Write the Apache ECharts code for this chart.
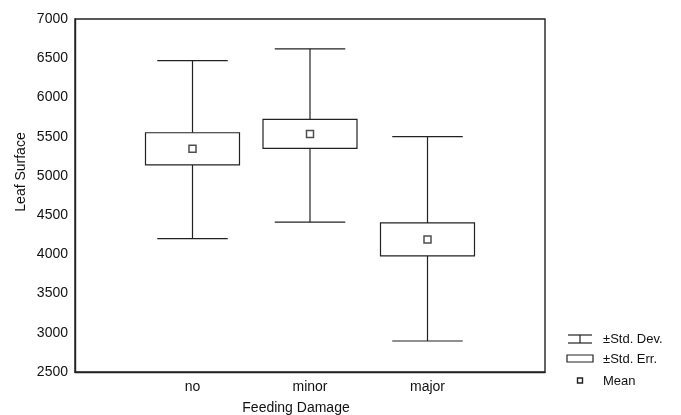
<!DOCTYPE html>
<html>
<head>
<meta charset="utf-8">
<script src="https://cdn.jsdelivr.net/npm/echarts@6/dist/echarts.min.js"></script>
<style>
  html, body { margin: 0; padding: 0; background: #fff; }
  #chart { width: 681px; height: 415px; }
</style>
</head>
<body>
<div id="chart"></div>
<script>
  // feeding damage groups
  const categories = ['no', 'minor', 'major'];
  const means = [5345, 5535, 4190];
  const stdErrLow = [5140, 5350, 3980];
  const stdErrHigh = [5550, 5720, 4400];
  const stdDevLow = [4200, 4410, 2895];
  const stdDevHigh = [6470, 6620, 5500];
  const yTicks = [2500, 7000, 500]; // min, max, step

  const ink = '#222';
  const font = 'Liberation Sans, Arial, sans-serif';

  // category axis padded with empty slots at both ends
  const axisCats = [''].concat(categories, ['']);

  const whiskerData = categories.map((c, i) => [c, stdDevLow[i], stdDevHigh[i]]);
  const boxData = categories.map((c, i) => [c, stdErrLow[i], stdErrHigh[i]]);
  const meanData = categories.map((c, i) => [c, means[i]]);

  function renderWhisker(params, api) {
    const lo = api.coord([api.value(0), api.value(1)]);
    const hi = api.coord([api.value(0), api.value(2)]);
    const half = api.size([1, 0])[0] * 0.3;
    const style = {stroke: ink, lineWidth: 1.2};
    return {
      type: 'group',
      children: [
        {type: 'line', shape: {x1: lo[0], y1: lo[1], x2: hi[0], y2: hi[1]}, style: style},
        {type: 'line', shape: {x1: hi[0] - half, y1: hi[1], x2: hi[0] + half, y2: hi[1]}, style: style},
        {type: 'line', shape: {x1: lo[0] - half, y1: lo[1], x2: lo[0] + half, y2: lo[1]}, style: style}
      ]
    };
  }

  function renderBox(params, api) {
    const lo = api.coord([api.value(0), api.value(1)]);
    const hi = api.coord([api.value(0), api.value(2)]);
    const half = api.size([1, 0])[0] * 0.4;
    return {
      type: 'rect',
      shape: {x: lo[0] - half, y: hi[1], width: half * 2, height: lo[1] - hi[1]},
      style: {fill: '#fff', stroke: ink, lineWidth: 1.2}
    };
  }

  const chart = echarts.init(document.getElementById('chart'));
  chart.setOption({
    animation: false,
    backgroundColor: '#fff',
    grid: {
      left: 75,
      top: 19,
      right: 136,
      bottom: 43,
      show: true,
      borderColor: ink,
      borderWidth: 1.4
    },
    xAxis: {
      type: 'category',
      data: axisCats,
      boundaryGap: false,
      axisLine: {lineStyle: {color: ink, width: 1.4}},
      axisTick: {show: false},
      axisLabel: {color: '#111', fontSize: 14, fontFamily: font, margin: 8},
      splitLine: {show: false}
    },
    yAxis: {
      type: 'value',
      min: yTicks[0],
      max: yTicks[1],
      interval: yTicks[2],
      axisLine: {show: true, lineStyle: {color: ink, width: 1.4}},
      axisTick: {show: false},
      axisLabel: {color: '#111', fontSize: 14, fontFamily: font, margin: 7, formatter: v => String(v)},
      splitLine: {show: false}
    },
    series: [
      {
        name: '±Std. Dev.',
        type: 'custom',
        renderItem: renderWhisker,
        encode: {x: 0, y: [1, 2]},
        data: whiskerData,
        z: 2
      },
      {
        name: '±Std. Err.',
        type: 'custom',
        renderItem: renderBox,
        encode: {x: 0, y: [1, 2]},
        data: boxData,
        z: 3
      },
      {
        name: 'Mean',
        type: 'scatter',
        symbol: 'rect',
        symbolSize: 7,
        itemStyle: {color: '#fff', borderColor: ink, borderWidth: 1.5},
        data: meanData,
        z: 4
      }
    ],
    graphic: [
      {
        type: 'text',
        x: 21, y: 172,
        rotation: Math.PI / 2,
        style: {text: 'Leaf Surface', fill: '#111', font: '14px ' + font, align: 'center', verticalAlign: 'middle'}
      },
      {
        type: 'text',
        x: 296, y: 408,
        style: {text: 'Feeding Damage', fill: '#111', font: '14px ' + font, align: 'center', verticalAlign: 'middle'}
      },
      // legend
      {type: 'line', shape: {x1: 568, y1: 335, x2: 592, y2: 335}, style: {stroke: ink, lineWidth: 1.2}},
      {type: 'line', shape: {x1: 568, y1: 343, x2: 592, y2: 343}, style: {stroke: ink, lineWidth: 1.2}},
      {type: 'line', shape: {x1: 580, y1: 335, x2: 580, y2: 343}, style: {stroke: ink, lineWidth: 1.2}},
      {type: 'text', x: 603, y: 339, style: {text: '±Std. Dev.', fill: '#111', font: '13px ' + font, verticalAlign: 'middle'}},
      {type: 'rect', shape: {x: 567, y: 355, width: 26, height: 7}, style: {fill: '#fff', stroke: ink, lineWidth: 1.2}},
      {type: 'text', x: 603, y: 359, style: {text: '±Std. Err.', fill: '#111', font: '13px ' + font, verticalAlign: 'middle'}},
      {type: 'rect', shape: {x: 577.5, y: 378, width: 5, height: 5}, style: {fill: '#fff', stroke: ink, lineWidth: 1.4}},
      {type: 'text', x: 603, y: 381, style: {text: 'Mean', fill: '#111', font: '13px ' + font, verticalAlign: 'middle'}}
    ]
  });
</script>
</body>
</html>
